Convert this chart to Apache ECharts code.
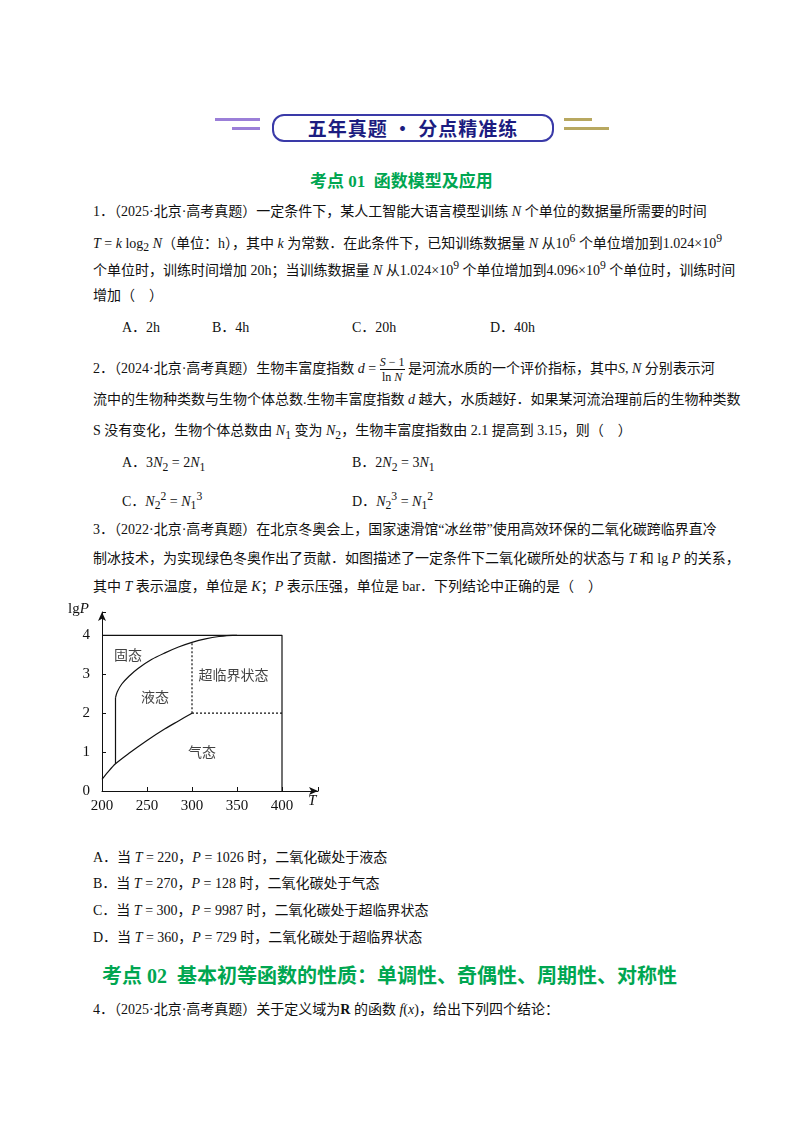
<!DOCTYPE html><html><head><meta charset="utf-8">
<script src="https://cdn.jsdelivr.net/npm/echarts@6/dist/echarts.min.js"></script>
<style>
body{margin:0;width:800px;height:1132px;position:relative;background:#fff;font-family:"Times New Roman","Liberation Serif","Noto Sans CJK SC",serif;font-size:14px;color:#111}
.t{position:absolute;white-space:nowrap;line-height:20px}
i{font-style:italic}
.g{color:#00a651;font-weight:bold;font-family:"Liberation Serif","Noto Sans CJK SC",serif}
</style></head><body>
<div class="t" style="left:215px;top:118px;width:45px;height:3px;background:#9b7fd8"></div>
<div class="t" style="left:232px;top:127px;width:28px;height:3px;background:#9b7fd8"></div>
<div class="t" style="left:272px;top:114px;width:278px;height:24px;border:2px solid #3a3aa8;border-radius:12px;line-height:24px;text-align:center;font-family:'Noto Sans CJK SC';font-size:19px;font-weight:bold;color:#1c1c80;letter-spacing:1px">五年真题 · 分点精准练</div>
<div class="t" style="left:564px;top:118px;width:28px;height:3px;background:#b8a860"></div>
<div class="t" style="left:564px;top:127px;width:45px;height:3px;background:#b8a860"></div>
<div class="t g" style="left:310px;top:172px;font-size:17px">考点 01&nbsp; 函数模型及应用</div>
<div class="t" style="left:93px;top:202px">1．（2025·北京·高考真题）一定条件下，某人工智能大语言模型训练 <i>N</i> 个单位的数据量所需要的时间</div>
<div class="t" style="left:93px;top:229px"><i>T</i> = <i>k</i> log<sub>2</sub> <i>N</i>（单位：h），其中 <i>k</i> 为常数．在此条件下，已知训练数据量 <i>N</i> 从10<sup>6</sup> 个单位增加到1.024×10<sup>9</sup></div>
<div class="t" style="left:93px;top:256px">个单位时，训练时间增加 20h；当训练数据量 <i>N</i> 从1.024×10<sup>9</sup> 个单位增加到4.096×10<sup>9</sup> 个单位时，训练时间</div>
<div class="t" style="left:93px;top:286px">增加（　）</div>
<div class="t" style="left:122px;top:318px">A．2h</div><div class="t" style="left:212px;top:318px">B．4h</div><div class="t" style="left:352px;top:318px">C．20h</div><div class="t" style="left:490px;top:318px">D．40h</div>
<div class="t" style="left:93px;top:355px">2．（2024·北京·高考真题）生物丰富度指数 <i>d</i> = <span style="display:inline-block;vertical-align:middle;text-align:center;font-size:12px;line-height:14px"><span style="border-bottom:1px solid #111;display:block"><i>S</i> − 1</span>ln <i>N</i></span> 是河流水质的一个评价指标，其中<i>S</i>, <i>N</i> 分别表示河</div>
<div class="t" style="left:93px;top:390px">流中的生物种类数与生物个体总数.生物丰富度指数 <i>d</i> 越大，水质越好．如果某河流治理前后的生物种类数</div>
<div class="t" style="left:93px;top:421px">S 没有变化，生物个体总数由 <i>N</i><sub>1</sub> 变为 <i>N</i><sub>2</sub>，生物丰富度指数由 2.1 提高到 3.15，则（　）</div>
<div class="t" style="left:122px;top:453px">A．3<i>N</i><sub>2</sub> = 2<i>N</i><sub>1</sub></div><div class="t" style="left:352px;top:453px">B．2<i>N</i><sub>2</sub> = 3<i>N</i><sub>1</sub></div>
<div class="t" style="left:122px;top:487px">C．<i>N</i><sub>2</sub><sup>2</sup> = <i>N</i><sub>1</sub><sup>3</sup></div><div class="t" style="left:352px;top:487px">D．<i>N</i><sub>2</sub><sup>3</sup> = <i>N</i><sub>1</sub><sup>2</sup></div>
<div class="t" style="left:93px;top:520px">3．（2022·北京·高考真题）在北京冬奥会上，国家速滑馆“冰丝带”使用高效环保的二氧化碳跨临界直冷</div>
<div class="t" style="left:93px;top:549px">制冰技术，为实现绿色冬奥作出了贡献．如图描述了一定条件下二氧化碳所处的状态与 <i>T</i> 和 lg <i>P</i> 的关系，</div>
<div class="t" style="left:93px;top:577px">其中 <i>T</i> 表示温度，单位是 <i>K</i>；<i>P</i> 表示压强，单位是 bar．下列结论中正确的是（　）</div>
<div id="c" style="position:absolute;left:60px;top:600px;width:280px;height:245px"></div>
<div class="t" style="left:93px;top:848px">A．当 <i>T</i> = 220，<i>P</i> = 1026 时，二氧化碳处于液态</div>
<div class="t" style="left:93px;top:874px">B．当 <i>T</i> = 270，<i>P</i> = 128 时，二氧化碳处于气态</div>
<div class="t" style="left:93px;top:901px">C．当 <i>T</i> = 300，<i>P</i> = 9987 时，二氧化碳处于超临界状态</div>
<div class="t" style="left:93px;top:928px">D．当 <i>T</i> = 360，<i>P</i> = 729 时，二氧化碳处于超临界状态</div>
<div class="t g" style="left:102px;top:963px;font-size:20px;line-height:26px">考点 02&nbsp; 基本初等函数的性质：单调性、奇偶性、周期性、对称性</div>
<div class="t" style="left:93px;top:1000px">4．（2025·北京·高考真题）关于定义域为<b>R</b> 的函数 <i>f</i>(<i>x</i>)，给出下列四个结论：</div>
<script>
const xTicks=[200,250,300,350,400];
const yTicks=[0,1,2,3,4];
const gasLiquid=[[200,0.3],[207,0.5],[215,0.7],[230,0.97],[250,1.3],[270,1.6],[285,1.8],[300,2.0]];
const solidVertical=[[215,0.7],[215,2.4]];
const solidLiquid=[[215,2.4],[217,2.55],[222,2.75],[230,2.95],[240,3.15],[255,3.38],[270,3.55],[285,3.7],[300,3.82],[315,3.91],[330,3.97],[345,4.0],[350,4.0]];
const boxTop=[[200,4],[400,4],[400,0]];
const dashV=[[300,2],[300,3.82]];
const dashH=[[300,2],[400,2]];
const regionLabels=[{name:'固态',v:[229,3.5]},{name:'液态',v:[259,2.42]},{name:'超临界状态',v:[346,3.0]},{name:'气态',v:[311,1.0]}];
const ln=(d,type)=>({type:'line',data:d,symbol:'none',smooth:type==='s'?0.3:false,lineStyle:{color:'#111',width:1.2,type:type==='d'?[2,2]:'solid'},silent:true});
const ch=echarts.init(document.getElementById('c'));
const f="'Times New Roman','Liberation Serif',serif";
ch.setOption({animation:false,
grid:{left:42,top:12,width:216,height:179},
graphic:[{type:'text',left:248,top:194,style:{text:'T',font:"italic 15px 'Liberation Serif'",fill:'#111'}},
 {type:'text',left:8,top:2,style:{text:'{a|lg}{b|P}',rich:{a:{font:"15px 'Liberation Serif'",fill:'#111'},b:{font:"italic 15px 'Liberation Serif'",fill:'#111'}}}}],
xAxis:{type:'value',min:200,max:440,interval:50,
 axisLine:{lineStyle:{color:'#111'},symbol:['none','arrow'],symbolSize:[6,9]},axisTick:{inside:true,length:4,lineStyle:{color:'#111'}},splitLine:{show:false},
 axisLabel:{color:'#111',fontFamily:f,fontSize:15,formatter:v=>xTicks.includes(v)?v:''}},
yAxis:{type:'value',min:0,max:4.6,interval:1,
 axisLine:{show:true,lineStyle:{color:'#111'},symbol:['none','arrow'],symbolSize:[6,9]},axisTick:{show:true,inside:true,length:4,lineStyle:{color:'#111'}},splitLine:{show:false},
 axisLabel:{color:'#111',fontFamily:f,fontSize:15,margin:12,formatter:v=>yTicks.includes(v)?v:''}},
series:[ln(gasLiquid,'s'),ln(solidVertical),ln(solidLiquid,'s'),ln(boxTop),ln(dashV,'d'),ln(dashH,'d'),
{type:'scatter',data:regionLabels.map(r=>({value:r.v,name:r.name})),symbolSize:0,silent:true,
 label:{show:true,position:'inside',formatter:p=>p.name,color:'#111',fontSize:14,fontFamily:'Noto Sans CJK SC'}}]});
</script></body></html>
